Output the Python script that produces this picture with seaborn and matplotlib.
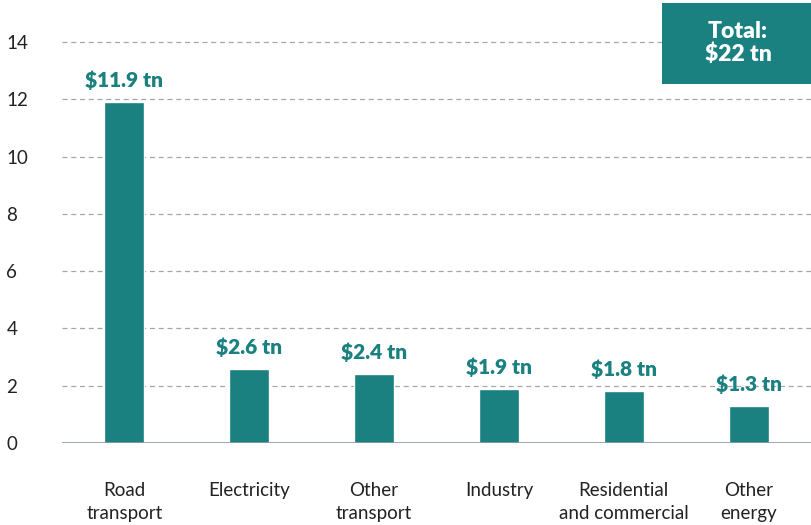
import matplotlib.pyplot as plt
import seaborn as sns
import pandas as pd
from matplotlib.patches import Rectangle

sectors = [
    "Road\ntransport",
    "Electricity",
    "Other\ntransport",
    "Industry",
    "Residential\nand commercial",
    "Other\nenergy"
]

values = [11.9, 2.6, 2.4, 1.9, 1.8, 1.3]

labels = ["$11.9 tn", "$2.6 tn", "$2.4 tn", "$1.9 tn", "$1.8 tn", "$1.3 tn"]

total_text = "Total:\n$22 tn"

teal = "#1a8080"

df = pd.DataFrame({"sector": sectors, "value": values})

sns.set_style("white")
plt.rcParams["font.family"] = ["Lato", "DejaVu Sans"]

fig = plt.figure(figsize=(8.11, 5.25), dpi=100)
ax = fig.add_axes([62 / 811, 82 / 525, 749 / 811, 429.6 / 525])

sns.barplot(
    data=df,
    x="sector",
    y="value",
    color=teal,
    saturation=1,
    width=0.32,
    ax=ax,
    zorder=3
)

for i, (v, lab) in enumerate(zip(values, labels)):
    ax.text(
        i, v + 0.42, lab,
        ha="center", va="bottom",
        color=teal, fontsize=15, fontweight="heavy"
    )

ax.set_xlim(-0.5, 5.5)
ax.set_ylim(0, 15)
ax.set_yticks(range(0, 15, 2))
for y in range(2, 15, 2):
    ax.axhline(y, color="#a0a8a8", linestyle=(0, (4, 3)), linewidth=0.9, zorder=1)
ax.axhline(0, color="#8a9a9e", linewidth=1.2, zorder=4)

for s in ax.spines.values():
    s.set_visible(False)

ax.set_xlabel("")
ax.set_ylabel("")
ax.tick_params(axis="x", length=0, pad=28, labelsize=13.5, colors="#222222")
ax.tick_params(axis="y", length=0, labelsize=13.5, colors="#222222")
for t in ax.get_xticklabels():
    t.set_linespacing(1.45)
for t in ax.get_yticklabels():
    t.set_horizontalalignment("left")
ax.yaxis.set_tick_params(pad=40)

fig.patches.append(Rectangle(
    (662 / 811, 1 - 84 / 525), 149 / 811, 81 / 525,
    transform=fig.transFigure, facecolor=teal, edgecolor="none", zorder=5
))
fig.text(
    738 / 811, 1 - 43 / 525, total_text,
    ha="center", va="center", color="white",
    fontsize=16.5, fontweight="heavy", linespacing=1.1, zorder=6
)

fig.savefig("out.png", dpi=100)
